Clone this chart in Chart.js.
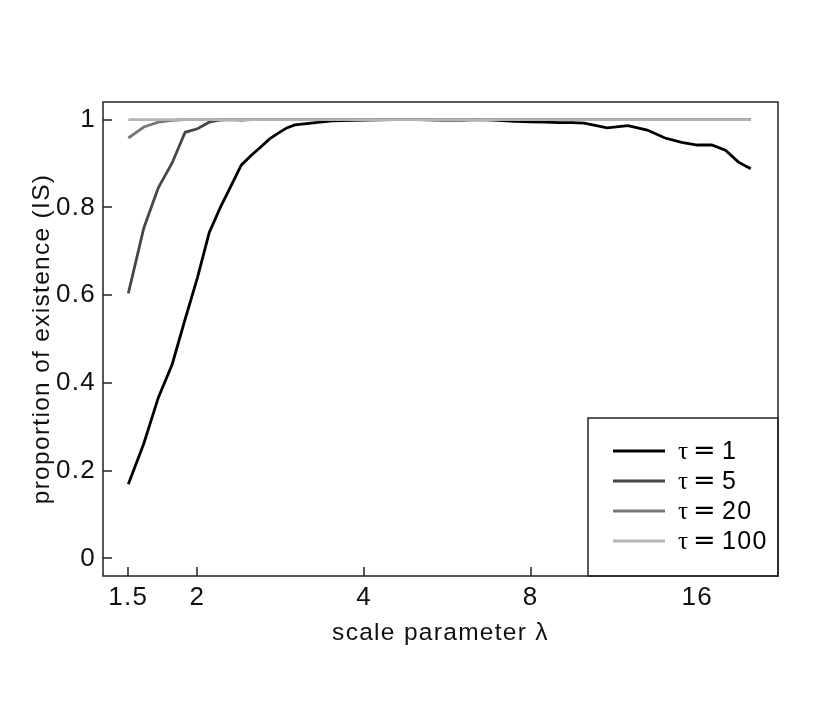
<!DOCTYPE html>
<html>
<head>
<meta charset="utf-8">
<script src="https://cdn.jsdelivr.net/npm/chart.js@4.4.1/dist/chart.umd.min.js"></script>
<style>
html,body{margin:0;padding:0;background:#fff;}
#c{display:block;}
</style>
</head>
<body>
<canvas id="c" width="830" height="705"></canvas>
<script>
// ---- data ----
const lambdas = [1.5,1.6,1.7,1.8,1.9,2.0,2.1,2.2,2.3,2.4,2.5,2.6,2.7,2.8,2.9,3.0,3.5,4,4.5,5,5.5,6,6.5,7,7.5,8,8.5,9,9.5,10,11,12,13,14,15,16,17,18,19,20];
const tau1   = [0.169,0.262,0.367,0.442,0.545,0.640,0.742,0.800,0.849,0.896,0.918,0.937,0.956,0.969,0.981,0.988,0.997,0.999,1.0,1.0,0.999,0.999,1.0,0.998,0.996,0.995,0.994,0.993,0.993,0.992,0.981,0.986,0.976,0.958,0.948,0.942,0.942,0.930,0.903,0.888];
const tau5   = [0.604,0.753,0.845,0.901,0.971,0.979,0.994,0.999,1.0,0.999,1.0,1.0,1.0,1.0,1.0,1.0,1.0,1.0,1.0,1.0,1.0,1.0,1.0,1.0,1.0,1.0,1.0,1.0,1.0,1.0,1.0,1.0,1.0,1.0,1.0,1.0,1.0,1.0,1.0,1.0];
const tau20  = [0.958,0.983,0.994,0.998,1.0,1.0,1.0,1.0,1.0,1.0,1.0,1.0,1.0,1.0,1.0,1.0,1.0,1.0,1.0,1.0,1.0,1.0,1.0,1.0,1.0,1.0,1.0,1.0,1.0,1.0,1.0,1.0,1.0,1.0,1.0,1.0,1.0,1.0,1.0,1.0];
const tau100 = [1.0,1.0,1.0,1.0,1.0,1.0,1.0,1.0,1.0,1.0,1.0,1.0,1.0,1.0,1.0,1.0,1.0,1.0,1.0,1.0,1.0,1.0,1.0,1.0,1.0,1.0,1.0,1.0,1.0,1.0,1.0,1.0,1.0,1.0,1.0,1.0,1.0,1.0,1.0,1.0];
const seriesLabels = ['1','5','20','100'];
const xTickValues = [1.5,2,4,8,16];
const yTickValues = [0,0.2,0.4,0.6,0.8,1];

const colors = ['#000000','#474747','#787878','#b4b4b4'];
const FONT = '"Liberation Sans", Arial, Helvetica, sans-serif';
const AXIS_COLOR = '#222222';
const SPACING = '1.3px';

function pts(vals){ return lambdas.map((x,i)=>({x:x,y:vals[i]})); }
const allSeries = [tau1,tau5,tau20,tau100];

const datasets = allSeries.map((s,i)=>({
  label: '\u03C4 = ' + seriesLabels[i],
  data: pts(s),
  borderColor: colors[i],
  backgroundColor: colors[i],
  borderWidth: 2.8,
  pointRadius: 0,
  tension: 0,
  fill: false,
  order: 4 - i
}));

const framePlugin = {
  id: 'frame',
  beforeDraw(chart){ chart.ctx.letterSpacing = SPACING; },
  afterDatasetsDraw(chart){
    const ctx = chart.ctx, a = chart.chartArea;
    const xs = chart.scales.x, ys = chart.scales.y;
    ctx.save();
    ctx.strokeStyle = AXIS_COLOR;
    ctx.lineWidth = 1.5;
    // inward ticks
    ctx.beginPath();
    xTickValues.forEach(v=>{
      const px = Math.round(xs.getPixelForValue(v));
      ctx.moveTo(px, a.bottom); ctx.lineTo(px, a.bottom - 9);
    });
    yTickValues.forEach(v=>{
      const py = Math.round(ys.getPixelForValue(v));
      ctx.moveTo(a.left, py); ctx.lineTo(a.left + 9, py);
    });
    ctx.stroke();

    // legend box
    const bw = 190, bh = 158;
    const bx = a.right - bw, by = a.bottom - bh;
    ctx.fillStyle = '#ffffff';
    ctx.fillRect(bx, by, bw, bh);
    ctx.lineWidth = 1.5;
    ctx.strokeRect(bx, by, bw, bh);
    chart.data.datasets.forEach((ds,i)=>{
      const yy = by + 33 + i*30;
      ctx.strokeStyle = ds.borderColor;
      ctx.lineWidth = 2.8;
      ctx.beginPath();
      ctx.moveTo(bx + 25, yy); ctx.lineTo(bx + 77, yy);
      ctx.stroke();
      ctx.fillStyle = '#000';
      ctx.textBaseline = 'middle';
      ctx.textAlign = 'left';
      ctx.letterSpacing = '0px';
      ctx.font = '25px "Liberation Serif", "Times New Roman", serif';
      ctx.fillText('\u03C4', bx + 90, yy + 1);
      ctx.font = '27px "DejaVu Sans", sans-serif';
      ctx.fillText('=', bx + 105, yy + 1);
      ctx.letterSpacing = SPACING;
      ctx.font = '25px ' + FONT;
      ctx.fillText(seriesLabels[i], bx + 134, yy + 1);
    });

    // plot frame
    ctx.strokeStyle = AXIS_COLOR;
    ctx.lineWidth = 1.5;
    ctx.strokeRect(a.left, a.top, a.right - a.left, a.bottom - a.top);
    ctx.restore();
  }
};

new Chart(document.getElementById('c'), {
  type: 'line',
  data: { datasets },
  options: {
    responsive: false,
    animation: false,
    devicePixelRatio: 1,
    layout: { padding: { left: 28, right: 52, top: 102, bottom: 57 } },
    plugins: { legend: { display: false }, tooltip: { enabled: false } },
    scales: {
      x: {
        type: 'logarithmic',
        min: 1.35, max: 22.4,
        afterBuildTicks(s){ s.ticks = xTickValues.map(v=>({value:v})); },
        afterFit(s){ s.height = 72; },
        grid: { display: false, drawTicks: false },
        border: { display: false },
        ticks: {
          color: '#111', font: { family: FONT, size: 26 }, padding: 6,
          autoSkip: false, maxRotation: 0,
          callback: (v)=> String(v)
        },
        title: { display: true, text: 'scale parameter \u03BB', color: '#111',
                 font: { family: FONT, size: 24.5 }, padding: { top: 0, bottom: 0 } }
      },
      y: {
        type: 'linear',
        min: -0.04, max: 1.04,
        afterBuildTicks(s){ s.ticks = yTickValues.map(v=>({value:v})); },
        afterFit(s){ s.width = 75; },
        grid: { display: false, drawTicks: false },
        border: { display: false },
        ticks: {
          color: '#111', font: { family: FONT, size: 26 }, padding: 7,
          callback: (v)=> (v===0 ? '0' : v===1 ? '1' : v.toFixed(1))
        },
        title: { display: true, text: 'proportion of existence (IS)', color: '#111',
                 font: { family: FONT, size: 24.5 }, padding: { top: 0, bottom: 0 } }
      }
    }
  },
  plugins: [framePlugin]
});
</script>
</body>
</html>
